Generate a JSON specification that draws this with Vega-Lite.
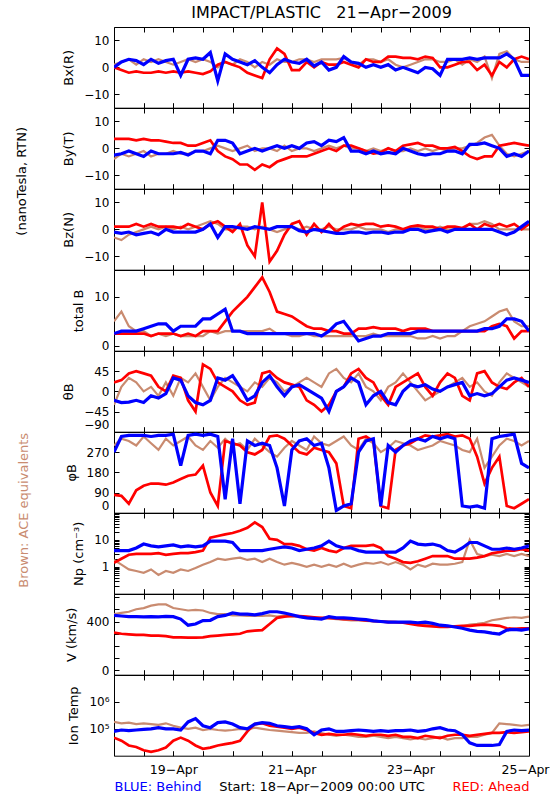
{
"$schema":"https://vega.github.io/schema/vega-lite/v6.json",
"background":"white",
"padding":{"left":15,"top":4,"right":0,"bottom":0},
"data":{"values":[
{"h":0,"s":"ace","bx":1,"by":-4,"bz":-3,"bt":5,"th":-30,"ph":300,"np":1.8,"v":460,"tp":180000},
{"h":3,"s":"ace","bx":2,"by":-2,"bz":-4,"bt":7,"th":10,"ph":330,"np":1.2,"v":470,"tp":160000},
{"h":6,"s":"ace","bx":3,"by":-3,"bz":-2,"bt":4,"th":30,"ph":320,"np":0.8,"v":480,"tp":170000},
{"h":9,"s":"ace","bx":1,"by":-2,"bz":-1,"bt":3,"th":20,"ph":300,"np":0.7,"v":500,"tp":150000},
{"h":12,"s":"ace","bx":3,"by":-1,"bz":0,"bt":3,"th":0,"ph":340,"np":0.6,"v":510,"tp":160000},
{"h":15,"s":"ace","bx":2,"by":-3,"bz":1,"bt":2,"th":10,"ph":310,"np":0.8,"v":530,"tp":150000},
{"h":18,"s":"ace","bx":3,"by":-2,"bz":0,"bt":2.5,"th":-10,"ph":280,"np":0.5,"v":540,"tp":140000},
{"h":21,"s":"ace","bx":2,"by":-2,"bz":1,"bt":2,"th":20,"ph":330,"np":0.7,"v":540,"tp":160000},
{"h":24,"s":"ace","bx":1,"by":-1,"bz":0,"bt":2.5,"th":-10,"ph":300,"np":0.6,"v":510,"tp":130000},
{"h":27,"s":"ace","bx":2,"by":-2,"bz":1,"bt":2,"th":30,"ph":320,"np":0.8,"v":500,"tp":110000},
{"h":30,"s":"ace","bx":3,"by":-2,"bz":0,"bt":2,"th":20,"ph":340,"np":0.7,"v":490,"tp":100000},
{"h":33,"s":"ace","bx":2,"by":-1,"bz":1,"bt":2,"th":40,"ph":300,"np":0.9,"v":495,"tp":110000},
{"h":36,"s":"ace","bx":3,"by":-1,"bz":2,"bt":2,"th":10,"ph":280,"np":1.2,"v":490,"tp":90000},
{"h":39,"s":"ace","bx":2,"by":0,"bz":3,"bt":3,"th":-20,"ph":320,"np":1.5,"v":470,"tp":100000},
{"h":42,"s":"ace","bx":0,"by":1,"bz":2,"bt":2.5,"th":10,"ph":290,"np":2,"v":460,"tp":90000},
{"h":45,"s":"ace","bx":2,"by":0,"bz":0,"bt":3,"th":30,"ph":330,"np":1.8,"v":460,"tp":85000},
{"h":48,"s":"ace","bx":1,"by":-1,"bz":0,"bt":3,"th":20,"ph":300,"np":2,"v":450,"tp":90000},
{"h":51,"s":"ace","bx":3,"by":0,"bz":1,"bt":3,"th":10,"ph":310,"np":2.2,"v":450,"tp":100000},
{"h":54,"s":"ace","bx":2,"by":1,"bz":1,"bt":3,"th":0,"ph":280,"np":1.8,"v":445,"tp":95000},
{"h":57,"s":"ace","bx":0,"by":-1,"bz":0,"bt":3,"th":20,"ph":330,"np":2,"v":445,"tp":110000},
{"h":60,"s":"ace","bx":2,"by":0,"bz":1,"bt":3,"th":10,"ph":300,"np":1.5,"v":445,"tp":100000},
{"h":63,"s":"ace","bx":1,"by":0,"bz":0,"bt":3.5,"th":30,"ph":270,"np":2,"v":450,"tp":90000},
{"h":66,"s":"ace","bx":3,"by":-1,"bz":-1,"bt":2.5,"th":20,"ph":250,"np":1.5,"v":440,"tp":85000},
{"h":69,"s":"ace","bx":2,"by":1,"bz":0,"bt":2.5,"th":0,"ph":290,"np":1.2,"v":450,"tp":80000},
{"h":72,"s":"ace","bx":2,"by":-1,"bz":1,"bt":2,"th":10,"ph":320,"np":1.4,"v":440,"tp":75000},
{"h":75,"s":"ace","bx":3,"by":0,"bz":0,"bt":2,"th":20,"ph":300,"np":1.2,"v":440,"tp":70000},
{"h":78,"s":"ace","bx":3,"by":0,"bz":1,"bt":2.5,"th":30,"ph":280,"np":1,"v":430,"tp":70000},
{"h":81,"s":"ace","bx":2,"by":-1,"bz":0,"bt":2,"th":20,"ph":340,"np":1.2,"v":420,"tp":80000},
{"h":84,"s":"ace","bx":3,"by":0,"bz":0,"bt":2,"th":10,"ph":310,"np":1,"v":430,"tp":70000},
{"h":87,"s":"ace","bx":3,"by":1,"bz":1,"bt":2,"th":40,"ph":300,"np":1.2,"v":425,"tp":60000},
{"h":90,"s":"ace","bx":3,"by":0,"bz":0,"bt":2,"th":50,"ph":320,"np":1,"v":420,"tp":55000},
{"h":93,"s":"ace","bx":3.5,"by":1,"bz":0,"bt":2,"th":30,"ph":340,"np":1.3,"v":415,"tp":60000},
{"h":96,"s":"ace","bx":2,"by":0,"bz":0,"bt":2,"th":20,"ph":300,"np":1,"v":410,"tp":55000},
{"h":99,"s":"ace","bx":1,"by":0,"bz":1,"bt":2,"th":40,"ph":280,"np":1.2,"v":410,"tp":50000},
{"h":102,"s":"ace","bx":3,"by":-1,"bz":0,"bt":2,"th":10,"ph":330,"np":1.4,"v":405,"tp":50000},
{"h":105,"s":"ace","bx":3,"by":0,"bz":0,"bt":2.5,"th":0,"ph":310,"np":1.3,"v":400,"tp":55000},
{"h":108,"s":"ace","bx":2,"by":-1,"bz":0,"bt":2,"th":-20,"ph":270,"np":1.5,"v":400,"tp":50000},
{"h":111,"s":"ace","bx":3,"by":0,"bz":-1,"bt":2,"th":10,"ph":290,"np":1.2,"v":400,"tp":45000},
{"h":114,"s":"ace","bx":1,"by":-1,"bz":0,"bt":2,"th":20,"ph":320,"np":1.5,"v":395,"tp":50000},
{"h":117,"s":"ace","bx":0,"by":-1,"bz":0,"bt":2,"th":40,"ph":310,"np":1.2,"v":390,"tp":45000},
{"h":120,"s":"ace","bx":1,"by":0,"bz":0,"bt":2,"th":20,"ph":300,"np":0.8,"v":385,"tp":40000},
{"h":123,"s":"ace","bx":2,"by":-1,"bz":1,"bt":1.5,"th":0,"ph":280,"np":1.2,"v":375,"tp":45000},
{"h":126,"s":"ace","bx":3,"by":0,"bz":0,"bt":1.5,"th":-20,"ph":290,"np":1,"v":370,"tp":40000},
{"h":129,"s":"ace","bx":3,"by":-1,"bz":0,"bt":2,"th":-10,"ph":300,"np":1.3,"v":365,"tp":45000},
{"h":132,"s":"ace","bx":2,"by":0,"bz":1,"bt":1.5,"th":0,"ph":320,"np":1.2,"v":360,"tp":50000},
{"h":135,"s":"ace","bx":2,"by":-1,"bz":0,"bt":2,"th":10,"ph":310,"np":1.2,"v":355,"tp":40000},
{"h":138,"s":"ace","bx":3,"by":0,"bz":0,"bt":2,"th":20,"ph":300,"np":1.3,"v":355,"tp":45000},
{"h":141,"s":"ace","bx":1,"by":0,"bz":0,"bt":3,"th":30,"ph":280,"np":1.5,"v":360,"tp":45000},
{"h":144,"s":"ace","bx":3,"by":1,"bz":2,"bt":4,"th":10,"ph":270,"np":10,"v":375,"tp":50000},
{"h":147,"s":"ace","bx":2,"by":2,"bz":2,"bt":4.5,"th":20,"ph":330,"np":3,"v":380,"tp":50000},
{"h":150,"s":"ace","bx":4,"by":4,"bz":3,"bt":5,"th":0,"ph":200,"np":2.5,"v":390,"tp":60000},
{"h":153,"s":"ace","bx":-4,"by":5,"bz":2,"bt":6,"th":-10,"ph":250,"np":2.8,"v":410,"tp":70000},
{"h":156,"s":"ace","bx":5,"by":1,"bz":0,"bt":7,"th":20,"ph":300,"np":2.5,"v":420,"tp":160000},
{"h":159,"s":"ace","bx":6,"by":-2,"bz":0,"bt":7.5,"th":40,"ph":330,"np":3,"v":430,"tp":150000},
{"h":162,"s":"ace","bx":3,"by":-3,"bz":0,"bt":5,"th":30,"ph":320,"np":2.5,"v":435,"tp":140000},
{"h":165,"s":"ace","bx":2,"by":-2,"bz":0,"bt":4,"th":20,"ph":300,"np":3,"v":430,"tp":130000},
{"h":168,"s":"ace","bx":2,"by":-1,"bz":0,"bt":4,"th":10,"ph":320,"np":2.5,"v":440,"tp":140000},
{"h":0,"s":"ahead","bx":0,"by":3.5,"bz":1,"bt":2.5,"th":20,"ph":80,"np":1.4,"v":310,"tp":47000},
{"h":3,"s":"ahead","bx":-1,"by":3.5,"bz":1,"bt":2.5,"th":25,"ph":75,"np":2,"v":300,"tp":36000},
{"h":6,"s":"ahead","bx":-2,"by":3.5,"bz":1,"bt":2.5,"th":40,"ph":40,"np":2.8,"v":295,"tp":24000},
{"h":9,"s":"ahead","bx":-1.5,"by":3,"bz":2,"bt":2.5,"th":45,"ph":100,"np":3,"v":290,"tp":21000},
{"h":12,"s":"ahead","bx":-2,"by":3.5,"bz":1,"bt":2.5,"th":40,"ph":120,"np":3,"v":290,"tp":16000},
{"h":15,"s":"ahead","bx":-2,"by":3,"bz":2,"bt":2,"th":35,"ph":130,"np":3,"v":285,"tp":14000},
{"h":18,"s":"ahead","bx":-1.5,"by":3,"bz":1,"bt":2.5,"th":10,"ph":130,"np":3.2,"v":285,"tp":16000},
{"h":21,"s":"ahead","bx":-2,"by":2.5,"bz":1,"bt":2.5,"th":0,"ph":125,"np":2.8,"v":280,"tp":20000},
{"h":24,"s":"ahead","bx":-1.5,"by":2,"bz":1,"bt":2.5,"th":35,"ph":135,"np":3,"v":270,"tp":36000},
{"h":27,"s":"ahead","bx":-2,"by":2,"bz":0.5,"bt":2,"th":30,"ph":150,"np":3.2,"v":270,"tp":47000},
{"h":30,"s":"ahead","bx":-1.5,"by":1,"bz":2,"bt":2.5,"th":-20,"ph":165,"np":3.2,"v":268,"tp":36000},
{"h":33,"s":"ahead","bx":-2,"by":1,"bz":1,"bt":2,"th":-45,"ph":170,"np":3.5,"v":268,"tp":24000},
{"h":36,"s":"ahead","bx":-2.5,"by":2,"bz":0,"bt":3,"th":60,"ph":210,"np":4,"v":270,"tp":18000},
{"h":39,"s":"ahead","bx":-1.5,"by":3,"bz":2,"bt":3,"th":50,"ph":90,"np":12,"v":280,"tp":20000},
{"h":42,"s":"ahead","bx":1,"by":-1,"bz":3,"bt":3,"th":20,"ph":30,"np":14,"v":285,"tp":24000},
{"h":45,"s":"ahead","bx":2,"by":-3,"bz":1,"bt":5,"th":10,"ph":320,"np":16,"v":290,"tp":27000},
{"h":48,"s":"ahead","bx":1,"by":-4,"bz":-1,"bt":7,"th":0,"ph":310,"np":18,"v":295,"tp":30000},
{"h":51,"s":"ahead","bx":0,"by":-6,"bz":2,"bt":8.5,"th":-20,"ph":300,"np":22,"v":300,"tp":36000},
{"h":54,"s":"ahead","bx":-2,"by":-6,"bz":-6,"bt":10,"th":-30,"ph":270,"np":28,"v":320,"tp":80000},
{"h":57,"s":"ahead","bx":-3,"by":-8,"bz":-10,"bt":12,"th":-25,"ph":260,"np":45,"v":325,"tp":150000},
{"h":60,"s":"ahead","bx":-4,"by":-6,"bz":10,"bt":14,"th":40,"ph":280,"np":30,"v":330,"tp":160000},
{"h":63,"s":"ahead","bx":3,"by":-7,"bz":-12,"bt":11,"th":45,"ph":340,"np":11,"v":380,"tp":130000},
{"h":66,"s":"ahead","bx":7,"by":-5,"bz":-8,"bt":7,"th":30,"ph":345,"np":10,"v":430,"tp":120000},
{"h":69,"s":"ahead","bx":5,"by":-4,"bz":-2,"bt":6.5,"th":20,"ph":330,"np":7,"v":440,"tp":110000},
{"h":72,"s":"ahead","bx":-1,"by":-3,"bz":2,"bt":6,"th":15,"ph":300,"np":7,"v":445,"tp":100000},
{"h":75,"s":"ahead","bx":-1,"by":-3,"bz":3,"bt":5,"th":10,"ph":270,"np":6,"v":445,"tp":110000},
{"h":78,"s":"ahead","bx":2,"by":-3,"bz":-2,"bt":4,"th":-20,"ph":260,"np":4.5,"v":440,"tp":90000},
{"h":81,"s":"ahead","bx":0,"by":-2,"bz":2,"bt":3.5,"th":-30,"ph":290,"np":4,"v":435,"tp":70000},
{"h":84,"s":"ahead","bx":2,"by":-1,"bz":-1,"bt":3.5,"th":-45,"ph":280,"np":5,"v":430,"tp":60000},
{"h":87,"s":"ahead","bx":1,"by":0,"bz":2,"bt":3,"th":-30,"ph":270,"np":4,"v":430,"tp":65000},
{"h":90,"s":"ahead","bx":1,"by":-1,"bz":-1,"bt":3,"th":0,"ph":220,"np":3.5,"v":425,"tp":60000},
{"h":93,"s":"ahead","bx":2,"by":1,"bz":1,"bt":2.5,"th":10,"ph":30,"np":5,"v":420,"tp":60000},
{"h":96,"s":"ahead","bx":1,"by":1,"bz":2,"bt":2.5,"th":40,"ph":20,"np":6,"v":420,"tp":65000},
{"h":99,"s":"ahead","bx":0,"by":0,"bz":1.5,"bt":3.5,"th":50,"ph":330,"np":6,"v":415,"tp":60000},
{"h":102,"s":"ahead","bx":3,"by":-1,"bz":2,"bt":3.5,"th":30,"ph":340,"np":6,"v":410,"tp":55000},
{"h":105,"s":"ahead","bx":2,"by":-2,"bz":2,"bt":3.8,"th":20,"ph":320,"np":6.5,"v":405,"tp":60000},
{"h":108,"s":"ahead","bx":2,"by":-1.5,"bz":1,"bt":3.5,"th":-10,"ph":30,"np":5,"v":400,"tp":60000},
{"h":111,"s":"ahead","bx":4,"by":0,"bz":1.5,"bt":3.5,"th":-30,"ph":20,"np":2.5,"v":395,"tp":55000},
{"h":114,"s":"ahead","bx":4,"by":-1,"bz":1,"bt":3.5,"th":10,"ph":280,"np":2,"v":395,"tp":60000},
{"h":117,"s":"ahead","bx":3.5,"by":1,"bz":0,"bt":3,"th":20,"ph":300,"np":1.5,"v":390,"tp":50000},
{"h":120,"s":"ahead","bx":3.5,"by":1.5,"bz":1,"bt":3.5,"th":30,"ph":310,"np":1.4,"v":380,"tp":50000},
{"h":123,"s":"ahead","bx":3,"by":2,"bz":1.5,"bt":3.5,"th":40,"ph":330,"np":1.6,"v":370,"tp":45000},
{"h":126,"s":"ahead","bx":4,"by":1,"bz":1,"bt":3.5,"th":10,"ph":345,"np":2,"v":365,"tp":55000},
{"h":129,"s":"ahead","bx":3.5,"by":1,"bz":1,"bt":3,"th":-10,"ph":340,"np":2.5,"v":360,"tp":50000},
{"h":132,"s":"ahead","bx":0,"by":0,"bz":0,"bt":3,"th":20,"ph":345,"np":2.5,"v":355,"tp":45000},
{"h":135,"s":"ahead","bx":0,"by":0,"bz":1,"bt":3,"th":40,"ph":350,"np":2.5,"v":355,"tp":55000},
{"h":138,"s":"ahead","bx":1,"by":0.5,"bz":1,"bt":3,"th":30,"ph":340,"np":2,"v":360,"tp":60000},
{"h":141,"s":"ahead","bx":2,"by":-1,"bz":0.5,"bt":3,"th":-10,"ph":345,"np":2,"v":365,"tp":60000},
{"h":144,"s":"ahead","bx":2,"by":-3,"bz":2,"bt":3,"th":-20,"ph":330,"np":2,"v":365,"tp":55000},
{"h":147,"s":"ahead","bx":-1,"by":-4,"bz":0,"bt":3,"th":40,"ph":250,"np":2.2,"v":370,"tp":60000},
{"h":150,"s":"ahead","bx":1,"by":-3,"bz":2,"bt":3,"th":45,"ph":130,"np":2.5,"v":375,"tp":65000},
{"h":153,"s":"ahead","bx":-3,"by":-3,"bz":1,"bt":4,"th":20,"ph":200,"np":3.2,"v":370,"tp":70000},
{"h":156,"s":"ahead","bx":2,"by":1,"bz":2,"bt":4.5,"th":10,"ph":250,"np":3.5,"v":365,"tp":70000},
{"h":159,"s":"ahead","bx":0,"by":1.5,"bz":1,"bt":4,"th":5,"ph":30,"np":4,"v":345,"tp":75000},
{"h":162,"s":"ahead","bx":3,"by":2,"bz":2,"bt":1.5,"th":20,"ph":20,"np":4,"v":340,"tp":70000},
{"h":165,"s":"ahead","bx":4,"by":1.5,"bz":0,"bt":3,"th":30,"ph":40,"np":4.5,"v":345,"tp":75000},
{"h":168,"s":"ahead","bx":3,"by":1,"bz":2,"bt":3,"th":10,"ph":60,"np":4,"v":345,"tp":80000},
{"h":0,"s":"behind","bx":0,"by":-2.5,"bz":-1,"bt":2.5,"th":-20,"ph":270,"np":4,"v":450,"tp":80000},
{"h":3,"s":"behind","bx":2,"by":-2,"bz":-1.5,"bt":3,"th":-25,"ph":340,"np":4,"v":445,"tp":90000},
{"h":6,"s":"behind","bx":3,"by":-1,"bz":-1,"bt":3,"th":-24,"ph":345,"np":4,"v":440,"tp":85000},
{"h":9,"s":"behind","bx":2.5,"by":-2,"bz":-2,"bt":3,"th":-20,"ph":345,"np":5,"v":440,"tp":90000},
{"h":12,"s":"behind","bx":1,"by":-3,"bz":-1.5,"bt":3.5,"th":-25,"ph":345,"np":7,"v":438,"tp":95000},
{"h":15,"s":"behind","bx":3,"by":-1,"bz":-1,"bt":4,"th":-10,"ph":340,"np":6,"v":440,"tp":100000},
{"h":18,"s":"behind","bx":1.5,"by":-2,"bz":-2,"bt":4.5,"th":-15,"ph":345,"np":5.5,"v":438,"tp":110000},
{"h":21,"s":"behind","bx":2.5,"by":-2,"bz":0,"bt":4.5,"th":-5,"ph":345,"np":6,"v":442,"tp":100000},
{"h":24,"s":"behind","bx":3,"by":-2,"bz":-1,"bt":3,"th":30,"ph":350,"np":6.5,"v":440,"tp":100000},
{"h":27,"s":"behind","bx":-3,"by":-1.5,"bz":-1,"bt":4,"th":25,"ph":210,"np":5.5,"v":420,"tp":90000},
{"h":30,"s":"behind","bx":3,"by":-2.5,"bz":-1,"bt":4,"th":-10,"ph":345,"np":6,"v":370,"tp":180000},
{"h":33,"s":"behind","bx":3.5,"by":-1,"bz":-1,"bt":4,"th":-25,"ph":350,"np":5.5,"v":380,"tp":240000},
{"h":36,"s":"behind","bx":3,"by":-1,"bz":0,"bt":5.5,"th":-30,"ph":345,"np":6,"v":408,"tp":130000},
{"h":39,"s":"behind","bx":5.5,"by":-2,"bz":2,"bt":5.5,"th":-20,"ph":350,"np":9,"v":410,"tp":110000},
{"h":42,"s":"behind","bx":-5,"by":3,"bz":-3,"bt":6.5,"th":30,"ph":340,"np":9,"v":440,"tp":170000},
{"h":45,"s":"behind","bx":5,"by":3,"bz":1,"bt":7.5,"th":25,"ph":60,"np":9,"v":450,"tp":180000},
{"h":48,"s":"behind","bx":3,"by":2,"bz":1,"bt":3,"th":35,"ph":330,"np":8,"v":470,"tp":150000},
{"h":51,"s":"behind","bx":2,"by":-2,"bz":0.5,"bt":3,"th":10,"ph":40,"np":4,"v":460,"tp":110000},
{"h":54,"s":"behind","bx":1,"by":-1,"bz":0,"bt":2.5,"th":-20,"ph":320,"np":4,"v":460,"tp":100000},
{"h":57,"s":"behind","bx":2.5,"by":0,"bz":1,"bt":2.5,"th":-10,"ph":300,"np":4,"v":455,"tp":150000},
{"h":60,"s":"behind","bx":0,"by":-1,"bz":0.5,"bt":2.5,"th":20,"ph":310,"np":4,"v":465,"tp":170000},
{"h":63,"s":"behind","bx":-2,"by":0,"bz":0,"bt":2.5,"th":35,"ph":300,"np":4.5,"v":480,"tp":160000},
{"h":66,"s":"behind","bx":1,"by":1,"bz":1,"bt":2.5,"th":10,"ph":200,"np":5,"v":480,"tp":130000},
{"h":69,"s":"behind","bx":3,"by":0,"bz":1,"bt":2.5,"th":-10,"ph":30,"np":5.5,"v":470,"tp":120000},
{"h":72,"s":"behind","bx":2,"by":1,"bz":1,"bt":2.5,"th":10,"ph":280,"np":5,"v":455,"tp":110000},
{"h":75,"s":"behind","bx":1.5,"by":0,"bz":-0.5,"bt":2.5,"th":15,"ph":320,"np":4,"v":440,"tp":120000},
{"h":78,"s":"behind","bx":3,"by":2,"bz":-1,"bt":2.5,"th":5,"ph":330,"np":4.5,"v":430,"tp":100000},
{"h":81,"s":"behind","bx":0.5,"by":2.5,"bz":0,"bt":2.5,"th":-5,"ph":300,"np":5,"v":425,"tp":60000},
{"h":84,"s":"behind","bx":2,"by":1,"bz":-0.5,"bt":2,"th":-15,"ph":310,"np":6,"v":420,"tp":90000},
{"h":87,"s":"behind","bx":-1,"by":3,"bz":-1,"bt":3,"th":-45,"ph":200,"np":9,"v":440,"tp":100000},
{"h":90,"s":"behind","bx":0,"by":2.5,"bz":-1.5,"bt":4.5,"th":0,"ph":10,"np":6,"v":430,"tp":80000},
{"h":93,"s":"behind","bx":4,"by":4,"bz":-1.5,"bt":5,"th":10,"ph":30,"np":5,"v":430,"tp":80000},
{"h":96,"s":"behind","bx":2,"by":-1,"bz":-1,"bt":3,"th":30,"ph":40,"np":5,"v":425,"tp":85000},
{"h":99,"s":"behind","bx":1.5,"by":-1,"bz":-1,"bt":1,"th":20,"ph":270,"np":4,"v":420,"tp":90000},
{"h":102,"s":"behind","bx":0,"by":-2,"bz":-1.5,"bt":1.5,"th":-30,"ph":320,"np":3.5,"v":415,"tp":85000},
{"h":105,"s":"behind","bx":1,"by":-1,"bz":-1,"bt":2,"th":-10,"ph":330,"np":3.5,"v":405,"tp":80000},
{"h":108,"s":"behind","bx":0,"by":-2,"bz":-1,"bt":2,"th":0,"ph":30,"np":3.5,"v":400,"tp":85000},
{"h":111,"s":"behind","bx":1,"by":-1.5,"bz":-1.5,"bt":2.5,"th":-25,"ph":300,"np":3.5,"v":395,"tp":80000},
{"h":114,"s":"behind","bx":-1,"by":-2,"bz":-1,"bt":2.5,"th":-30,"ph":270,"np":3.5,"v":395,"tp":85000},
{"h":117,"s":"behind","bx":0,"by":0,"bz":-1,"bt":2.5,"th":0,"ph":300,"np":5,"v":395,"tp":85000},
{"h":120,"s":"behind","bx":-1,"by":-1,"bz":0,"bt":2.5,"th":15,"ph":320,"np":9,"v":395,"tp":90000},
{"h":123,"s":"behind","bx":-2,"by":-2,"bz":0,"bt":3,"th":10,"ph":330,"np":7,"v":390,"tp":80000},
{"h":126,"s":"behind","bx":0,"by":-2.5,"bz":-1,"bt":3,"th":15,"ph":320,"np":6.5,"v":395,"tp":85000},
{"h":129,"s":"behind","bx":-0.5,"by":-2,"bz":-0.5,"bt":3,"th":5,"ph":340,"np":7,"v":385,"tp":100000},
{"h":132,"s":"behind","bx":-3,"by":-2,"bz":0,"bt":3,"th":0,"ph":330,"np":6,"v":370,"tp":110000},
{"h":135,"s":"behind","bx":3,"by":-1,"bz":-1,"bt":3,"th":10,"ph":340,"np":4,"v":365,"tp":90000},
{"h":138,"s":"behind","bx":3,"by":-1,"bz":0,"bt":3,"th":15,"ph":330,"np":3.5,"v":355,"tp":85000},
{"h":141,"s":"behind","bx":3,"by":-2,"bz":0,"bt":3,"th":20,"ph":30,"np":5,"v":345,"tp":60000},
{"h":144,"s":"behind","bx":3.5,"by":1.5,"bz":0,"bt":3,"th":-10,"ph":25,"np":8,"v":330,"tp":30000},
{"h":147,"s":"behind","bx":3,"by":1.5,"bz":0,"bt":3,"th":-5,"ph":30,"np":8,"v":320,"tp":24000},
{"h":150,"s":"behind","bx":3.5,"by":2,"bz":0,"bt":3.5,"th":-10,"ph":20,"np":6,"v":315,"tp":24000},
{"h":153,"s":"behind","bx":3.5,"by":1,"bz":0,"bt":3.5,"th":-5,"ph":330,"np":4.5,"v":305,"tp":24000},
{"h":156,"s":"behind","bx":3.5,"by":0,"bz":-1,"bt":4,"th":10,"ph":340,"np":4.5,"v":298,"tp":26000},
{"h":159,"s":"behind","bx":5,"by":-3,"bz":-2,"bt":5.5,"th":25,"ph":345,"np":5,"v":330,"tp":80000},
{"h":162,"s":"behind","bx":3,"by":-2,"bz":-1,"bt":5.5,"th":30,"ph":350,"np":4.5,"v":335,"tp":90000},
{"h":165,"s":"behind","bx":-3,"by":-3,"bz":1,"bt":5,"th":25,"ph":220,"np":5,"v":330,"tp":85000},
{"h":168,"s":"behind","bx":-3,"by":-1,"bz":3,"bt":3,"th":20,"ph":200,"np":6,"v":340,"tp":90000}
]},
"vconcat":[
{"width":415,"height":80.7,
 "title":{"text":"IMPACT/PLASTIC\u00a0\u00a0\u00a021−Apr−2009","fontSize":16,"offset":6,"anchor":"middle","frame":"group"},
 "layer":[
  {"mark":{"type":"line","clip":true},"encoding":{
   "x":{"field":"h","type":"quantitative","scale":{"domain":[0,168],"nice":false,"zero":false},"axis":{"values":[0,12,24,36,48,60,72,84,96,108,120,132,144,156,168],"labels":false,"title":null}},
   "y":{"field":"bx","type":"quantitative","scale":{"domain":[-15,15],"nice":false,"zero":false},"axis":{"values":[-10,0,10],"title":"Bx(R)"}},
   "color":{"field":"s","type":"nominal","scale":{"domain":["ace","ahead","behind"],"range":["#c98b70","#ff0000","#0000ff"]},"legend":null},
   "size":{"field":"s","type":"ordinal","scale":{"domain":["ace","ahead","behind"],"range":[2.2,3.2,3.2]},"legend":null}}},
  {"mark":{"type":"line","opacity":0},"encoding":{
   "x":{"field":"h","type":"quantitative","axis":{"orient":"top","values":[0,12,24,36,48,60,72,84,96,108,120,132,144,156,168],"labels":false,"title":null}},
   "y":{"field":"bx","type":"quantitative","axis":{"orient":"right","values":[-10,0,10],"labels":false,"title":null}}}}
 ],
 "resolve":{"axis":{"x":"independent","y":"independent"}}},
{"width":415,"height":80.7,
 "title":{"text":"(nanoTesla, RTN)","orient":"left","anchor":"middle","offset":34,"fontSize":13,"dx":-33},
 "layer":[
  {"mark":{"type":"line","clip":true},"encoding":{
   "x":{"field":"h","type":"quantitative","scale":{"domain":[0,168],"nice":false,"zero":false},"axis":{"values":[0,12,24,36,48,60,72,84,96,108,120,132,144,156,168],"labels":false,"title":null}},
   "y":{"field":"by","type":"quantitative","scale":{"domain":[-15,15],"nice":false,"zero":false},"axis":{"values":[-10,0,10],"title":"By(T)"}},
   "color":{"field":"s","type":"nominal","scale":{"domain":["ace","ahead","behind"],"range":["#c98b70","#ff0000","#0000ff"]},"legend":null},
   "size":{"field":"s","type":"ordinal","scale":{"domain":["ace","ahead","behind"],"range":[2.2,3.2,3.2]},"legend":null}}},
  {"mark":{"type":"line","opacity":0},"encoding":{
   "x":{"field":"h","type":"quantitative","axis":{"orient":"top","values":[0,12,24,36,48,60,72,84,96,108,120,132,144,156,168],"labels":false,"title":null}},
   "y":{"field":"by","type":"quantitative","axis":{"orient":"right","values":[-10,0,10],"labels":false,"title":null}}}}
 ],
 "resolve":{"axis":{"x":"independent","y":"independent"}}},
{"width":415,"height":80.7,
 "layer":[
  {"mark":{"type":"line","clip":true},"encoding":{
   "x":{"field":"h","type":"quantitative","scale":{"domain":[0,168],"nice":false,"zero":false},"axis":{"values":[0,12,24,36,48,60,72,84,96,108,120,132,144,156,168],"labels":false,"title":null}},
   "y":{"field":"bz","type":"quantitative","scale":{"domain":[-15,15],"nice":false,"zero":false},"axis":{"values":[-10,0,10],"title":"Bz(N)"}},
   "color":{"field":"s","type":"nominal","scale":{"domain":["ace","ahead","behind"],"range":["#c98b70","#ff0000","#0000ff"]},"legend":null},
   "size":{"field":"s","type":"ordinal","scale":{"domain":["ace","ahead","behind"],"range":[2.2,3.2,3.2]},"legend":null}}},
  {"mark":{"type":"line","opacity":0},"encoding":{
   "x":{"field":"h","type":"quantitative","axis":{"orient":"top","values":[0,12,24,36,48,60,72,84,96,108,120,132,144,156,168],"labels":false,"title":null}},
   "y":{"field":"bz","type":"quantitative","axis":{"orient":"right","values":[-10,0,10],"labels":false,"title":null}}}}
 ],
 "resolve":{"axis":{"x":"independent","y":"independent"}}},
{"width":415,"height":80.7,
 "layer":[
  {"mark":{"type":"line","clip":true},"encoding":{
   "x":{"field":"h","type":"quantitative","scale":{"domain":[0,168],"nice":false,"zero":false},"axis":{"values":[0,12,24,36,48,60,72,84,96,108,120,132,144,156,168],"labels":false,"title":null}},
   "y":{"field":"bt","type":"quantitative","scale":{"domain":[-1,15.5],"nice":false,"zero":false},"axis":{"values":[0,10],"title":"total B"}},
   "color":{"field":"s","type":"nominal","scale":{"domain":["ace","ahead","behind"],"range":["#c98b70","#ff0000","#0000ff"]},"legend":null},
   "size":{"field":"s","type":"ordinal","scale":{"domain":["ace","ahead","behind"],"range":[2.2,3.2,3.2]},"legend":null}}},
  {"mark":{"type":"line","opacity":0},"encoding":{
   "x":{"field":"h","type":"quantitative","axis":{"orient":"top","values":[0,12,24,36,48,60,72,84,96,108,120,132,144,156,168],"labels":false,"title":null}},
   "y":{"field":"bt","type":"quantitative","axis":{"orient":"right","values":[0,10],"labels":false,"title":null}}}}
 ],
 "resolve":{"axis":{"x":"independent","y":"independent"}}},
{"width":415,"height":80.7,
 "layer":[
  {"mark":{"type":"line","clip":true},"encoding":{
   "x":{"field":"h","type":"quantitative","scale":{"domain":[0,168],"nice":false,"zero":false},"axis":{"values":[0,12,24,36,48,60,72,84,96,108,120,132,144,156,168],"labels":false,"title":null}},
   "y":{"field":"th","type":"quantitative","scale":{"domain":[-90,90],"nice":false,"zero":false},"axis":{"values":[-90,-45,0,45],"labelFlush":true,"title":"θB"}},
   "color":{"field":"s","type":"nominal","scale":{"domain":["ace","ahead","behind"],"range":["#c98b70","#ff0000","#0000ff"]},"legend":null},
   "size":{"field":"s","type":"ordinal","scale":{"domain":["ace","ahead","behind"],"range":[2.2,3.2,3.2]},"legend":null}}},
  {"mark":{"type":"line","opacity":0},"encoding":{
   "x":{"field":"h","type":"quantitative","axis":{"orient":"top","values":[0,12,24,36,48,60,72,84,96,108,120,132,144,156,168],"labels":false,"title":null}},
   "y":{"field":"th","type":"quantitative","axis":{"orient":"right","values":[-45,0,45],"labels":false,"title":null}}}}
 ],
 "resolve":{"axis":{"x":"independent","y":"independent"}}},
{"width":415,"height":80.7,
 "title":{"text":"Brown: ACE equivalents","orient":"left","anchor":"middle","offset":34,"fontSize":13,"color":"#c98b70","dx":-38},
 "layer":[
  {"mark":{"type":"line","clip":true},"encoding":{
   "x":{"field":"h","type":"quantitative","scale":{"domain":[0,168],"nice":false,"zero":false},"axis":{"values":[0,12,24,36,48,60,72,84,96,108,120,132,144,156,168],"labels":false,"title":null}},
   "y":{"field":"ph","type":"quantitative","scale":{"domain":[0,360],"nice":false,"zero":false},"axis":{"values":[0,90,180,270],"labelFlush":true,"title":"φB"}},
   "color":{"field":"s","type":"nominal","scale":{"domain":["ace","ahead","behind"],"range":["#c98b70","#ff0000","#0000ff"]},"legend":null},
   "size":{"field":"s","type":"ordinal","scale":{"domain":["ace","ahead","behind"],"range":[2.2,3.2,3.2]},"legend":null}}},
  {"mark":{"type":"line","opacity":0},"encoding":{
   "x":{"field":"h","type":"quantitative","axis":{"orient":"top","values":[0,12,24,36,48,60,72,84,96,108,120,132,144,156,168],"labels":false,"title":null}},
   "y":{"field":"ph","type":"quantitative","axis":{"orient":"right","values":[90,180,270],"labels":false,"title":null}}}}
 ],
 "resolve":{"axis":{"x":"independent","y":"independent"}}},
{"width":415,"height":80.7,
 "layer":[
  {"mark":{"type":"line","clip":true},"encoding":{
   "x":{"field":"h","type":"quantitative","scale":{"domain":[0,168],"nice":false,"zero":false},"axis":{"values":[0,12,24,36,48,60,72,84,96,108,120,132,144,156,168],"labels":false,"title":null}},
   "y":{"field":"np","type":"quantitative","scale":{"type":"log","domain":[0.1,100],"nice":false},"axis":{"values":[0.2,0.3,0.4,0.5,0.6,0.7,0.8,0.9,1,2,3,4,5,6,7,8,9,10,20,30,40,50,60,70,80,90],"labelExpr":"datum.value == 1 ? '1' : datum.value == 10 ? '10' : ''","title":"Np (cm⁻³)"}},
   "color":{"field":"s","type":"nominal","scale":{"domain":["ace","ahead","behind"],"range":["#c98b70","#ff0000","#0000ff"]},"legend":null},
   "size":{"field":"s","type":"ordinal","scale":{"domain":["ace","ahead","behind"],"range":[2.2,3.2,3.2]},"legend":null}}},
  {"mark":{"type":"line","opacity":0},"encoding":{
   "x":{"field":"h","type":"quantitative","axis":{"orient":"top","values":[0,12,24,36,48,60,72,84,96,108,120,132,144,156,168],"labels":false,"title":null}},
   "y":{"field":"np","type":"quantitative","axis":{"orient":"right","values":[0.2,0.3,0.4,0.5,0.6,0.7,0.8,0.9,1,2,3,4,5,6,7,8,9,10,20,30,40,50,60,70,80,90],"labels":false,"title":null}}}}
 ],
 "resolve":{"axis":{"x":"independent","y":"independent"}}},
{"width":415,"height":80.7,
 "layer":[
  {"mark":{"type":"line","clip":true},"encoding":{
   "x":{"field":"h","type":"quantitative","scale":{"domain":[0,168],"nice":false,"zero":false},"axis":{"values":[0,12,24,36,48,60,72,84,96,108,120,132,144,156,168],"labels":false,"title":null}},
   "y":{"field":"v","type":"quantitative","scale":{"domain":[-35,625],"nice":false,"zero":false},"axis":{"values":[0,100,200,300,400,500,600],"labelExpr":"datum.value == 0 || datum.value == 400 ? datum.label : ''","title":"V (km/s)"}},
   "color":{"field":"s","type":"nominal","scale":{"domain":["ace","ahead","behind"],"range":["#c98b70","#ff0000","#0000ff"]},"legend":null},
   "size":{"field":"s","type":"ordinal","scale":{"domain":["ace","ahead","behind"],"range":[2.2,3.2,3.2]},"legend":null}}},
  {"mark":{"type":"line","opacity":0},"encoding":{
   "x":{"field":"h","type":"quantitative","axis":{"orient":"top","values":[0,12,24,36,48,60,72,84,96,108,120,132,144,156,168],"labels":false,"title":null}},
   "y":{"field":"v","type":"quantitative","axis":{"orient":"right","values":[0,100,200,300,400,500,600],"labels":false,"title":null}}}}
 ],
 "resolve":{"axis":{"x":"independent","y":"independent"}}},
{"width":415,"height":80.7,
 "layer":[
  {"mark":{"type":"line","clip":true},"encoding":{
   "x":{"field":"h","type":"quantitative","scale":{"domain":[0,168],"nice":false,"zero":false},"axis":{"values":[0,12,24,36,48,60,72,84,96,108,120,132,144,156,168],"labelExpr":"datum.value % 48 == 24 ? (18 + datum.value / 24) + '−Apr' : ''","labelFlush":false,"labelFontSize":12.5,"labelPadding":13,"labelOffset":{"condition":{"test":"datum.value == 168","value":-4},"value":0},"title":"Start: 18−Apr−2009 00:00 UTC","titleX":207.5,"titleY":35,"titleAlign":"center","titleBaseline":"alphabetic"}},
   "y":{"field":"tp","type":"quantitative","scale":{"type":"log","domain":[10000,10000000],"nice":false},"axis":{"values":[100000,1000000],"labelExpr":"datum.value == 100000 ? '10⁵' : '10⁶'","title":"Ion Temp"}},
   "color":{"field":"s","type":"nominal","scale":{"domain":["ace","ahead","behind"],"range":["#c98b70","#ff0000","#0000ff"]},"legend":null},
   "size":{"field":"s","type":"ordinal","scale":{"domain":["ace","ahead","behind"],"range":[2.2,3.2,3.2]},"legend":null}}},
  {"mark":{"type":"line","opacity":0},"encoding":{
   "x":{"field":"h","type":"quantitative","axis":{"orient":"top","values":[0,12,24,36,48,60,72,84,96,108,120,132,144,156,168],"labels":false,"title":null}},
   "y":{"field":"tp","type":"quantitative","axis":{"orient":"right","values":[100000,1000000],"labels":false,"title":null}}}},
  {"mark":{"type":"line","opacity":0},"encoding":{
   "x":{"field":"h","type":"quantitative","axis":{"orient":"bottom","ticks":false,"labels":false,"title":"BLUE: Behind","titleColor":"#0000ff","titleX":0,"titleY":35,"titleAlign":"left","titleBaseline":"alphabetic"}},
   "y":{"field":"tp","type":"quantitative","axis":null}}},
  {"mark":{"type":"line","opacity":0},"encoding":{
   "x":{"field":"h","type":"quantitative","axis":{"orient":"bottom","ticks":false,"labels":false,"title":"RED: Ahead","titleColor":"#ff0000","titleX":415,"titleY":35,"titleAlign":"right","titleBaseline":"alphabetic"}},
   "y":{"field":"tp","type":"quantitative","axis":null}}}
 ],
 "resolve":{"axis":{"x":"independent","y":"independent"}}}
],
"spacing":0,
"bounds":"flush",
"resolve":{"scale":{"x":"independent","y":"independent"}},
"config":{
 "font":"DejaVu Sans",
 "view":{"stroke":"black","strokeWidth":1},
 "axis":{"domain":false,"grid":false,"tickSize":-5,"tickColor":"black","tickWidth":1,"labelFont":"DejaVu Sans","labelFontSize":12,"labelColor":"black","labelPadding":10,"titleFont":"DejaVu Sans","titleFontSize":13,"titleFontWeight":"normal","titleColor":"black","titlePadding":8},
 "title":{"font":"DejaVu Sans","fontWeight":"normal","color":"black","fontSize":13}
}
}
